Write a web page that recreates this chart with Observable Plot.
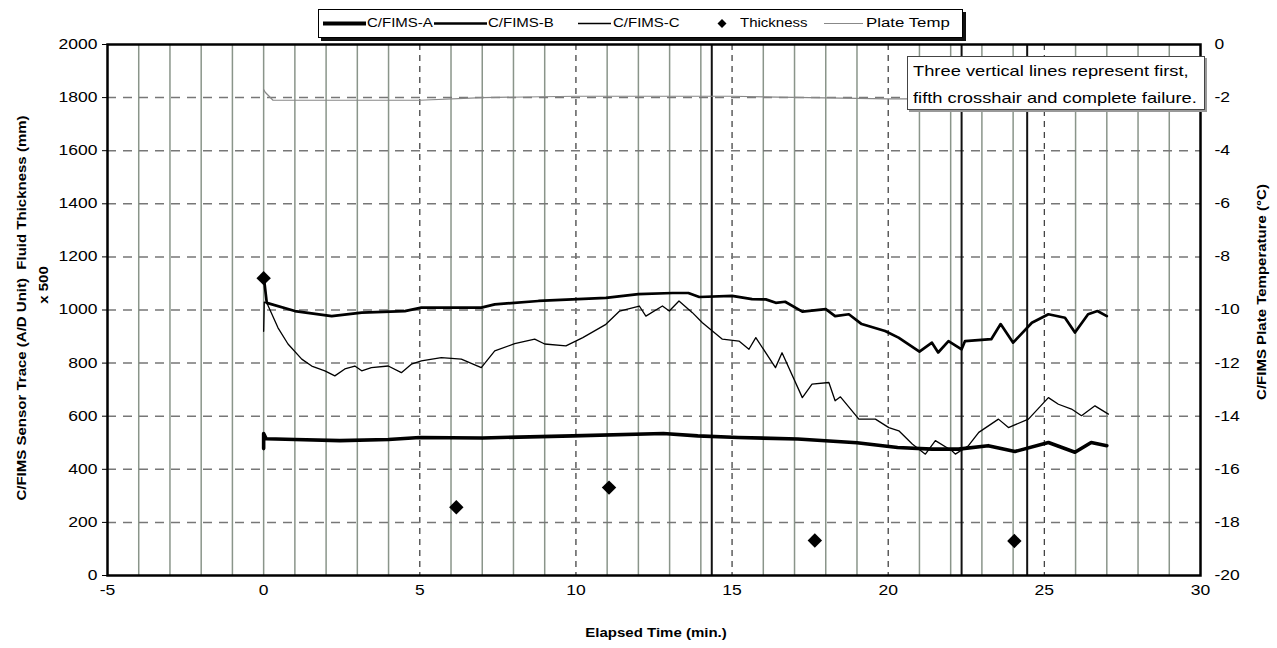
<!DOCTYPE html>
<html><head><meta charset="utf-8">
<script src="https://cdn.jsdelivr.net/npm/d3@7"></script>
<script src="https://cdn.jsdelivr.net/npm/@observablehq/plot@0.6"></script>
<style>
body{margin:0;background:#fff;}
#wrap{position:relative;width:1277px;height:648px;font-family:"Liberation Sans",Arial,sans-serif;color:#000;}
#legend{position:absolute;left:318px;top:9px;width:643px;height:27px;border:1px solid #000;background:#fff;box-shadow:3px 3px 0 #111;}
#legend svg{position:absolute;left:0;top:0;}
.lt{position:absolute;top:6px;font-size:12px;transform:scaleX(1.25);transform-origin:left center;white-space:nowrap;line-height:14px;}
#note{position:absolute;left:907px;top:56px;width:296px;height:52px;border:1px solid #444;background:#fff;box-shadow:2px 2px 0 #999;}
.nt{position:absolute;left:5px;font-size:15px;transform:scaleX(1.22);transform-origin:left center;white-space:nowrap;line-height:17px;}
</style></head>
<body>
<div id="wrap">
  <div id="chart"></div>
  <div id="legend">
    <svg width="643" height="27">
      <line x1="4" x2="47" y1="13.5" y2="13.5" stroke="#000" stroke-width="4"/>
      <line x1="115" x2="168" y1="13.5" y2="13.5" stroke="#000" stroke-width="2.5"/>
      <line x1="259" x2="292" y1="13.5" y2="13.5" stroke="#000" stroke-width="1.3"/>
      <path d="M403,9 L407.5,13.5 L403,18 L398.5,13.5 Z" fill="#000"/>
      <line x1="505" x2="544" y1="13.5" y2="13.5" stroke="#888" stroke-width="1.2"/>
    </svg>
    <span class="lt" style="left:48px">C/FIMS-A</span>
    <span class="lt" style="left:169px">C/FIMS-B</span>
    <span class="lt" style="left:294px">C/FIMS-C</span>
    <span class="lt" style="left:421px">Thickness</span>
    <span class="lt" style="left:547px;transform:scaleX(1.4)">Plate Temp</span>
  </div>
  <div id="note">
    <span class="nt" style="top:5px">Three vertical lines represent first,</span>
    <span class="nt" style="top:32px">fifth crosshair and complete failure.</span>
  </div>
</div>
<script>
// ---- data ----
const aTime  = [0, 0, 0.08, 1, 2.44, 4, 5, 7, 9.9, 12.8, 13.9, 15.2, 17.1, 19, 20.3, 21.4, 22.25, 23.2, 24.06, 25.13, 25.98, 26.5, 27.0];
const aValue = [478, 535, 515, 512, 508, 512, 520, 518, 526, 535, 526, 520, 514, 500, 482, 476, 476, 489, 467, 501, 464, 501, 489];

const bTime  = [0, 0.1, 1.0, 2.18, 3.14, 4.52, 5.05, 6.97, 7.4, 8.8, 10.96, 12.0, 13.1, 13.6, 13.95, 15.0, 15.64, 16.08, 16.4, 16.7, 17.25, 18.0, 18.3, 18.74, 19.15, 19.9, 20.33, 21.0, 21.4, 21.6, 21.93, 22.35, 22.46, 23.3, 23.6, 24.0, 24.6, 25.13, 25.66, 25.98, 26.4, 26.7, 27.0];
const bValue = [1130, 1027, 996, 977, 990, 996, 1009, 1009, 1021, 1034, 1046, 1060, 1064, 1064, 1049, 1053, 1041, 1040, 1027, 1031, 994, 1003, 977, 984, 947, 921, 896, 843, 877, 840, 883, 852, 883, 890, 947, 877, 952, 984, 971, 915, 984, 996, 977];

const cTime  = [0, 0.02, 0.1, 0.46, 0.78, 1.22, 1.54, 1.96, 2.28, 2.6, 2.92, 3.14, 3.45, 3.99, 4.41, 4.73, 5.05, 5.69, 6.33, 6.97, 7.4, 8.04, 8.68, 9.0, 9.68, 10.22, 10.96, 11.4, 12.03, 12.24, 12.77, 12.99, 13.3, 13.73, 14.05, 14.69, 15.22, 15.54, 15.76, 16.39, 16.6, 17.25, 17.56, 18.1, 18.3, 18.47, 19.06, 19.59, 20.02, 20.34, 20.77, 21.19, 21.51, 22.04, 22.15, 22.57, 22.9, 23.53, 23.85, 24.49, 25.13, 25.45, 25.87, 26.19, 26.62, 27.05];
const cValue = [920, 1030, 1027, 933, 872, 815, 789, 771, 752, 778, 789, 771, 783, 789, 764, 796, 808, 821, 815, 783, 846, 873, 890, 872, 865, 896, 946, 996, 1015, 977, 1015, 996, 1034, 990, 952, 890, 883, 852, 896, 783, 839, 670, 721, 727, 658, 673, 589, 589, 557, 545, 495, 457, 508, 470, 457, 489, 539, 589, 557, 589, 670, 645, 627, 602, 639, 608];

const thickTime  = [0, 6.17, 11.06, 17.65, 24.04];
const thickValue = [1120, 257, 331, 132, 130];

const plateTime = [0, 0.05, 0.3, 2, 5, 7, 10, 15, 20, 24, 27];
const plateTemp = [-1.7, -1.8, -2.1, -2.1, -2.1, -2.0, -1.95, -1.95, -2.05, -2.05, -2.05];

const failureTimes = [14.35, 22.35, 24.45];
const xTicks = [-5, 0, 5, 10, 15, 20, 25, 30];
const yTicks = [0, 200, 400, 600, 800, 1000, 1200, 1400, 1600, 1800, 2000];
const tempTicks = [-20, -18, -16, -14, -12, -10, -8, -6, -4, -2, 0];
const xMinor = d3.range(-4, 30).filter(d => d % 5 !== 0 || d === 0);
const xMajor = [5, 10, 15, 20, 25];
const yGrid = [200, 400, 600, 800, 1000, 1200, 1400, 1600, 1800];

const leftLabel = "C/FIMS Sensor Trace (A/D Unit)  Fluid Thickness (mm)";
const leftLabel2 = "x 500";
const rightLabel = "C/FIMS Plate Temperature (°C)";
const xLabel = "Elapsed Time (min.)";

// ---- tables ----
const rows = (ts, vs) => ts.map((t, i) => ({t, v: vs[i]}));
const aRows = rows(aTime, aValue);
const bRows = rows(bTime, bValue);
const cRows = rows(cTime, cValue);
const thickRows = rows(thickTime, thickValue);
const plateRows = plateTime.map((t, i) => ({t, temp: plateTemp[i]}));
// temperature (right axis, -20..0) mapped onto the left 0..2000 scale
const tempToY = T => (T + 20) * 100;

const plot = Plot.plot({
  width: 1277, height: 648,
  marginLeft: 107, marginRight: 77, marginTop: 44, marginBottom: 73,
  x: {domain: [-5, 30]},
  y: {domain: [0, 2000]},
  style: {fontFamily: "Liberation Sans, Arial, sans-serif", fontSize: "14px", color: "#000", background: "transparent", overflow: "visible"},
  marks: [
    Plot.ruleX(xMinor, {stroke: "#8a958a", strokeWidth: 1.5}),
    Plot.ruleX(xMajor, {stroke: "#444", strokeWidth: 1.3, strokeDasharray: "6,5"}),
    Plot.ruleY(yGrid, {stroke: "#777", strokeWidth: 1.5, strokeDasharray: "9,7"}),
    Plot.ruleX(failureTimes, {stroke: "#111", strokeWidth: 2}),
    Plot.line(plateRows, {x: "t", y: d => tempToY(d.temp), stroke: "#888", strokeWidth: 1.2}),
    Plot.line(cRows, {x: "t", y: "v", stroke: "#000", strokeWidth: 1.3}),
    Plot.line(bRows, {x: "t", y: "v", stroke: "#000", strokeWidth: 2.7}),
    Plot.line(aRows, {x: "t", y: "v", stroke: "#000", strokeWidth: 3.6}),
    Plot.dot(thickRows, {x: "t", y: "v", symbol: "diamond2", r: 6.5, fill: "#000", stroke: "none"}),
    Plot.frame({stroke: "#000", strokeWidth: 2.5}),
    Plot.axisY({ticks: yTicks, tickSize: 5, tickPadding: 5, tickFormat: d => String(d), label: null}),
    Plot.axisY({anchor: "right", ticks: tempTicks.map(tempToY), tickFormat: d => String(Math.round(d / 100 - 20)), tickSize: 0, tickPadding: 14, label: null}),
    Plot.axisX({ticks: xTicks, tickSize: 0, tickPadding: 10, tickFormat: d => String(d), label: null}),
    Plot.text([leftLabel], {text: d => d, frameAnchor: "left", textAnchor: "middle", dx: -85, dy: -2, rotate: -90, fontWeight: "bold", fontSize: 12, ariaLabel: "vlabel-left"}),
    Plot.text([leftLabel2], {text: d => d, frameAnchor: "left", textAnchor: "middle", dx: -63, dy: -25, rotate: -90, fontWeight: "bold", fontSize: 12, ariaLabel: "vlabel-left2"}),
    Plot.text([rightLabel], {text: d => d, frameAnchor: "right", textAnchor: "middle", dx: 62, dy: -18, rotate: -90, fontWeight: "bold", fontSize: 12, ariaLabel: "vlabel-right"}),
    Plot.text([xLabel], {text: d => d, frameAnchor: "bottom", dx: 2, dy: 61, fontWeight: "bold", fontSize: 12, ariaLabel: "xlabel"})
  ]
});
document.getElementById("chart").appendChild(plot);

// horizontal stretch of the reference's lettering
plot.querySelectorAll("text").forEach(t => {
  const g = t.closest("g");
  const lab = g ? (g.getAttribute("aria-label") || "") : "";
  t.setAttribute("lengthAdjust", "spacingAndGlyphs");
  if (lab === "vlabel-left") { t.setAttribute("textLength", 420); return; }
  if (lab === "vlabel-right") { t.setAttribute("textLength", 255); return; }
  if (lab === "vlabel-left2") { return; }
  const L = t.getComputedTextLength();
  if (L > 0) t.setAttribute("textLength", (L * 1.25).toFixed(1));
});
</script>
</body></html>
